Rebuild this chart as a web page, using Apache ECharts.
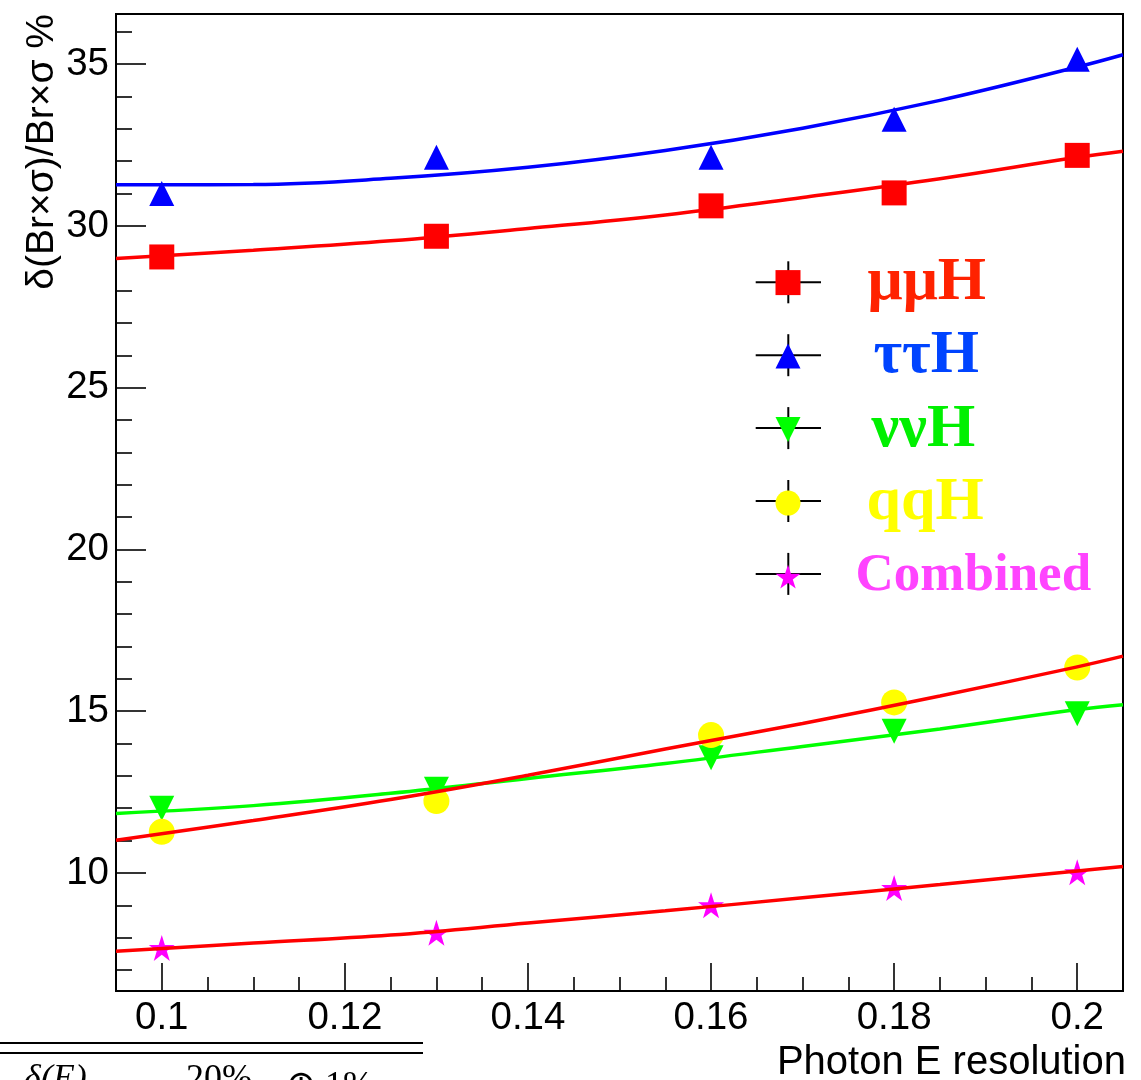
<!DOCTYPE html>
<html><head><meta charset="utf-8">
<script src="https://cdn.jsdelivr.net/npm/echarts@6/dist/echarts.min.js"></script>
<style>html,body{margin:0;padding:0;background:#fff}#c{width:1141px;height:1080px}</style>
</head><body><div id="c"></div>
<script>
// ---- data ----
const resolution = [0.1, 0.13, 0.16, 0.18, 0.2];
const mumuH = [29.04, 29.68, 30.62, 31.02, 32.18];
const tautauH = [31.0, 32.12, 32.12, 33.3, 35.15];
const nunuH = [12.0, 12.59, 13.56, 14.38, 14.92];
const qqH = [11.27, 12.22, 14.26, 15.27, 16.35];
const combined = [7.68, 8.15, 9.0, 9.53, 10.02];

// fit curves
const fitX = [0.095, 0.11, 0.125, 0.14, 0.155, 0.17, 0.185, 0.2, 0.205];
const fitMumu = [28.99, 29.25, 29.54, 29.92, 30.34, 30.88, 31.46, 32.12, 32.31];
const fitTautau = [31.27, 31.28, 31.47, 31.81, 32.33, 33.02, 33.88, 34.91, 35.29];
const fitNunu = [11.84, 12.08, 12.46, 12.92, 13.38, 13.91, 14.45, 15.05, 15.2];
const fitQq = [11.01, 11.62, 12.27, 13.02, 13.83, 14.62, 15.47, 16.37, 16.7];
const fitCombined = [7.58, 7.83, 8.08, 8.45, 8.83, 9.23, 9.64, 10.06, 10.2];

const seriesNames = ['μμH', 'ττH', 'ννH', 'qqH', 'Combined'];
const xMajorTicks = [0.1, 0.12, 0.14, 0.16, 0.18, 0.2];
const xMinorTicks = [0.105, 0.11, 0.115, 0.125, 0.13, 0.135, 0.145, 0.15, 0.155, 0.165, 0.17, 0.175, 0.185, 0.19, 0.195];
const yMajorTicks = [10, 15, 20, 25, 30, 35];
const yMinorTicks = [7, 8, 9, 11, 12, 13, 14, 16, 17, 18, 19, 21, 22, 23, 24, 26, 27, 28, 29, 31, 32, 33, 34, 36];
const yTitle = 'δ(Br×σ)/Br×σ %';
const xTitle = 'Photon E resolution';

// ---- build ----
const pair = (xs, ys) => xs.map((x, i) => [x, ys[i]]);
const STAR = 'path://M50,2 L61.8,38.2 L99.5,38.2 L69,60.5 L80.6,96.5 L50,74.2 L19.4,96.5 L31,60.5 L0.5,38.2 L38.2,38.2 Z';
const DOWN = 'path://M0,0 L20,0 L10,20 Z';

const markerDefs = [
  { name: seriesNames[0], data: mumuH, symbol: 'rect', color: '#ff0000', size: 25 },
  { name: seriesNames[1], data: tautauH, symbol: 'triangle', color: '#0000ff', size: 25 },
  { name: seriesNames[2], data: nunuH, symbol: DOWN, color: '#00ff00', size: 25 },
  { name: seriesNames[3], data: qqH, symbol: 'circle', color: '#ffff00', size: 26 },
  { name: seriesNames[4], data: combined, symbol: STAR, color: '#ff00ff', size: 26 }
];
const fitDefs = [
  { data: fitMumu, color: '#ff0000' },
  { data: fitTautau, color: '#0000ff' },
  { data: fitNunu, color: '#00ff00' },
  { data: fitQq, color: '#ff0000' },
  { data: fitCombined, color: '#ff0000' }
];

const series = [];
markerDefs.forEach(d => series.push({
  type: 'scatter', name: d.name, xAxisIndex: 0, yAxisIndex: 0,
  data: pair(resolution, d.data), symbol: d.symbol, symbolSize: d.size,
  itemStyle: { color: d.color, opacity: 1 }, z: 2
}));
fitDefs.forEach((d, i) => series.push({
  type: 'line', name: 'fit' + i, xAxisIndex: 0, yAxisIndex: 0,
  data: pair(fitX, d.data), showSymbol: false, symbol: 'none', smooth: 0.4,
  lineStyle: { color: d.color, width: 3.5 }, z: 3, silent: true
}));

const legendKey = { 'μμH': 'mu', 'ττH': 'tau', 'ννH': 'nu', 'qqH': 'qq', 'Combined': 'comb' };
const serifBold = { fontFamily: 'Liberation Serif', fontWeight: 'bold', lineHeight: 50, height: 50 };

const legendRows = [282.3, 355.2, 428.1, 501, 573.9];
const graphic = [];
legendRows.forEach(y => {
  graphic.push({ type: 'line', shape: { x1: 755.7, y1: y, x2: 821, y2: y }, style: { stroke: '#000', lineWidth: 2 }, z: 0 });
  graphic.push({ type: 'line', shape: { x1: 788.3, y1: y - 21, x2: 788.3, y2: y + 21 }, style: { stroke: '#000', lineWidth: 2 }, z: 0 });
});
graphic.push({ type: 'text', x: 42.5, y: 14, rotation: Math.PI / 2,
  style: { text: yTitle, fontSize: 39, fontFamily: 'Liberation Sans', fill: '#000', align: 'right', verticalAlign: 'middle' } });
graphic.push({ type: 'text', x: 1126, y: 1063,
  style: { text: xTitle, fontSize: 40, fontFamily: 'Liberation Sans', fill: '#000', align: 'right', verticalAlign: 'middle' } });
// partial formula at bottom-left
graphic.push({ type: 'line', shape: { x1: 0, y1: 1043, x2: 423, y2: 1043 }, style: { stroke: '#000', lineWidth: 2 } });
graphic.push({ type: 'line', shape: { x1: 0, y1: 1053, x2: 423, y2: 1053 }, style: { stroke: '#000', lineWidth: 2 } });
graphic.push({ type: 'text', x: 24, y: 1062, style: { text: 'δ(E)', fontSize: 36, fontFamily: 'Liberation Serif', fontStyle: 'italic', fill: '#000', align: 'left', verticalAlign: 'top' } });
graphic.push({ type: 'text', x: 186, y: 1062, style: { text: '20%', fontSize: 36, fontFamily: 'Liberation Serif', fill: '#000', align: 'left', verticalAlign: 'top' } });
graphic.push({ type: 'text', x: 286, y: 1069, style: { text: '⊕ 1%', fontSize: 36, fontFamily: 'Liberation Serif', fill: '#000', align: 'left', verticalAlign: 'top' } });

const baseAxis = {
  type: 'value', splitLine: { show: false }
};

const option = {
  animation: false,
  backgroundColor: '#ffffff',
  textStyle: { fontFamily: 'Liberation Sans' },
  grid: { left: 116, top: 14, width: 1007, height: 977, show: true, borderColor: '#000', borderWidth: 2, backgroundColor: 'transparent', containLabel: false, outerBoundsMode: 'none' },
  xAxis: [
    Object.assign({}, baseAxis, {
      min: 0.095, max: 0.205, position: 'bottom',
      axisLine: { show: true, lineStyle: { color: '#000', width: 2 } },
      axisTick: { show: true, inside: true, length: 28, customValues: xMajorTicks, lineStyle: { color: '#000', width: 1.6 } },
      axisLabel: { show: true, customValues: xMajorTicks, fontSize: 38.5, color: '#000', margin: 8, fontFamily: 'Liberation Sans' }
    }),
    Object.assign({}, baseAxis, {
      min: 0.095, max: 0.205, position: 'bottom',
      axisLine: { show: false },
      axisTick: { show: true, inside: true, length: 14, customValues: xMinorTicks, lineStyle: { color: '#000', width: 1.6 } },
      axisLabel: { show: false }
    })
  ],
  yAxis: [
    Object.assign({}, baseAxis, {
      min: 6.35, max: 36.55, position: 'left',
      axisLine: { show: true, lineStyle: { color: '#000', width: 2 } },
      axisTick: { show: true, inside: true, length: 30, customValues: yMajorTicks, lineStyle: { color: '#000', width: 1.6 } },
      axisLabel: { show: true, customValues: yMajorTicks, fontSize: 38.5, color: '#000', margin: 7, fontFamily: 'Liberation Sans' }
    }),
    Object.assign({}, baseAxis, {
      min: 6.35, max: 36.55, position: 'left',
      axisLine: { show: false },
      axisTick: { show: true, inside: true, length: 16, customValues: yMinorTicks, lineStyle: { color: '#000', width: 1.6 } },
      axisLabel: { show: false }
    })
  ],
  legend: {
    orient: 'vertical', left: 775.5, top: 251.6, padding: 0, itemGap: 11.5,
    itemWidth: 25, itemHeight: 25, selectedMode: false,
    data: seriesNames,
    formatter: name => '{' + legendKey[name] + '|' + name + '}' + (name === 'Combined' ? '{sp| }' : ''),
    textStyle: {
      rich: {
        mu: Object.assign({ color: '#ff2200', fontSize: 62, padding: [0, 0, 0, 62] }, serifBold),
        tau: Object.assign({ color: '#0044ff', fontSize: 62, padding: [0, 0, 0, 68] }, serifBold),
        nu: Object.assign({ color: '#00f000', fontSize: 62, padding: [0, 0, 0, 66] }, serifBold),
        qq: Object.assign({ color: '#ffff00', fontSize: 62, padding: [0, 0, 0, 61] }, serifBold),
        comb: Object.assign({ color: '#ff44ff', fontSize: 53, padding: [0, 0, 0, 50] }, serifBold),
        sp: Object.assign({ color: '#ffffff', fontSize: 62 }, serifBold)
      }
    }
  },
  graphic: graphic,
  series: series
};

const chart = echarts.init(document.getElementById('c'), null, { renderer: 'canvas' });
chart.setOption(option);
</script>
</body></html>
